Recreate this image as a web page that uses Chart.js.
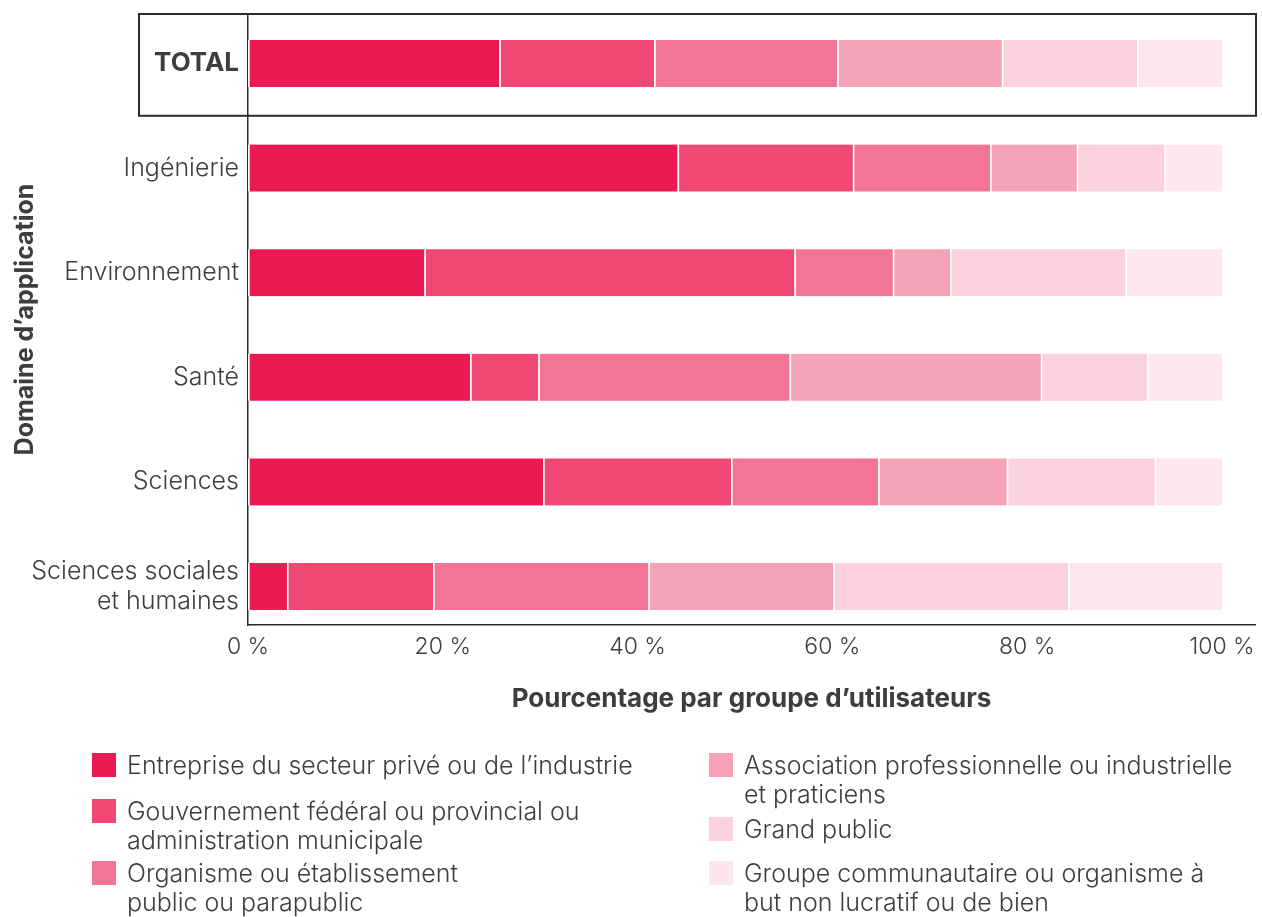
<!DOCTYPE html>
<html>
<head>
<meta charset="utf-8">
<title>Domaine d'application</title>
<script src="https://cdn.jsdelivr.net/npm/chart.js@4/dist/chart.umd.min.js"></script>
<style>
    body { margin: 0; background: #fff; }
    #wrap { position: relative; width: 1262px; height: 917px; }
    #legend { position: absolute; left: 0; top: 0; font-family: Inter, sans-serif; font-weight: 300; font-size: 25px; line-height: 29px; color: #3d3d3d; }
    .item { position: absolute; white-space: nowrap; }
    .item .box { position: absolute; left: 0; top: 2px; width: 24px; height: 24px; }
    .item .txt { position: absolute; left: 35px; top: 0; }
</style>
</head>
<body>
<div id="wrap">
    <canvas id="chart" width="1262" height="917"></canvas>
    <div id="legend"></div>
</div>
<script>
    // categories (top to bottom)
    const categories = ['TOTAL', 'Ingénierie', 'Environnement', 'Santé', 'Sciences', ['Sciences sociales', 'et humaines']]

    // user groups, legend lines as printed
    const groups = [
        ['Entreprise du secteur privé ou de l’industrie'],
        ['Gouvernement fédéral ou provincial ou', 'administration municipale'],
        ['Organisme ou établissement', 'public ou parapublic'],
        ['Association professionnelle ou industrielle', 'et praticiens'],
        ['Grand public'],
        ['Groupe communautaire ou organisme à', 'but non lucratif ou de bien'],
    ]
    const colors = ['#ec1a52', '#f04872', '#f37595', '#f6a3b9', '#fad1dc', '#fde6ec']

    // percentages per group, one value per category
    const prive = [25.8, 44.1, 18.1, 22.8, 30.3, 4.0]
    const gouvernement = [15.9, 18.0, 38.0, 7.0, 19.3, 15.0]
    const organisme = [18.8, 14.1, 10.1, 25.8, 15.1, 22.1]
    const association = [16.9, 8.9, 5.9, 25.8, 13.2, 19.0]
    const grandPublic = [13.9, 9.0, 18.0, 10.9, 15.2, 24.1]
    const communautaire = [8.7, 5.9, 9.9, 7.7, 6.9, 15.8]
    const series = [prive, gouvernement, organisme, association, grandPublic, communautaire]

    const xTicks = [0, 20, 40, 60, 80, 100]

    const textColor = '#3d3d3d'
    Chart.defaults.font.family = 'Inter, sans-serif'
    Chart.defaults.color = textColor

    // frame around the TOTAL row
    const totalBox = {
        id: 'totalBox',
        afterDraw(chart) {
            const { ctx, chartArea } = chart
            const y = chart.scales.y
            const bottom = y.getPixelForValue(0.5)
            ctx.save()
            ctx.strokeStyle = '#2b2b2b'
            ctx.lineWidth = 2
            ctx.strokeRect(139, chartArea.top, chartArea.right + 1 - 139, bottom - chartArea.top)
            ctx.restore()
        },
    }

    new Chart('chart', {
        type: 'bar',
        data: {
            datasets: series.map((vals, i) => ({
                label: groups[i].join(' '),
                data: vals.map((v, j) => ({ x: v, y: j })),
                backgroundColor: colors[i],
                borderColor: '#fff',
                borderWidth: { left: 2, right: 0, top: 0, bottom: 0 },
                borderSkipped: false,
                barThickness: 47,
            })),
        },
        options: {
            indexAxis: 'y',
            responsive: false,
            animation: false,
            layout: { padding: { left: 0, right: 7, top: 14, bottom: 192 } },
            plugins: {
                legend: { display: false },
                tooltip: { enabled: false },
            },
            scales: {
                x: {
                    type: 'linear',
                    stacked: true,
                    min: 0,
                    max: 103.4,
                    afterBuildTicks: s => { s.ticks = xTicks.map(v => ({ value: v })) },
                    afterFit: s => { s.height = 100; s.paddingLeft = 0; s.paddingRight = 0 },
                    grid: { display: false, drawTicks: false },
                    border: { display: true, color: '#2b2b2b', width: 1.5 },
                    ticks: {
                        padding: 8,
                        font: { size: 23, weight: 300 },
                        color: textColor,
                        callback: v => v + '\u00a0%',
                    },
                    title: {
                        display: true,
                        text: 'Pourcentage par groupe d’utilisateurs',
                        font: { size: 26, weight: 'bold' },
                        color: textColor,
                        padding: { top: 0, bottom: 10 },
                    },
                },
                y: {
                    type: 'linear',
                    stacked: true,
                    reverse: true,
                    offset: false,
                    min: -0.473,
                    max: 5.368,
                    afterBuildTicks: s => { s.ticks = categories.map((c, i) => ({ value: i })) },
                    afterFit: s => { s.width = 248; s.paddingTop = 0; s.paddingBottom = 0 },
                    grid: { display: false, drawTicks: false },
                    border: { display: true, color: '#2b2b2b', width: 1.5 },
                    ticks: {
                        padding: 9,
                        color: textColor,
                        font: ctx => ctx.index === 0
                            ? { size: 26, weight: 'bold' }
                            : { size: 25, weight: 300 },
                        callback: v => categories[v],
                    },
                    title: {
                        display: true,
                        text: 'Domaine d’application',
                        font: { size: 25, weight: 'bold' },
                        color: textColor,
                        padding: { top: 10, bottom: 0 },
                    },
                },
            },
        },
        plugins: [totalBox],
    })

    // two-column legend below the chart
    const legendPos = [
        [92, 751], [92, 797], [92, 859],
        [709, 751], [709, 815], [709, 859],
    ]
    const legend = document.getElementById('legend')
    groups.forEach((lines, i) => {
        const item = document.createElement('div')
        item.className = 'item'
        item.style.left = legendPos[i][0] + 'px'
        item.style.top = legendPos[i][1] + 'px'
        item.innerHTML = '<span class="box" style="background:' + colors[i] + '"></span>' +
            '<span class="txt">' + lines.join('<br>') + '</span>'
        legend.appendChild(item)
    })
</script>
</body>
</html>
